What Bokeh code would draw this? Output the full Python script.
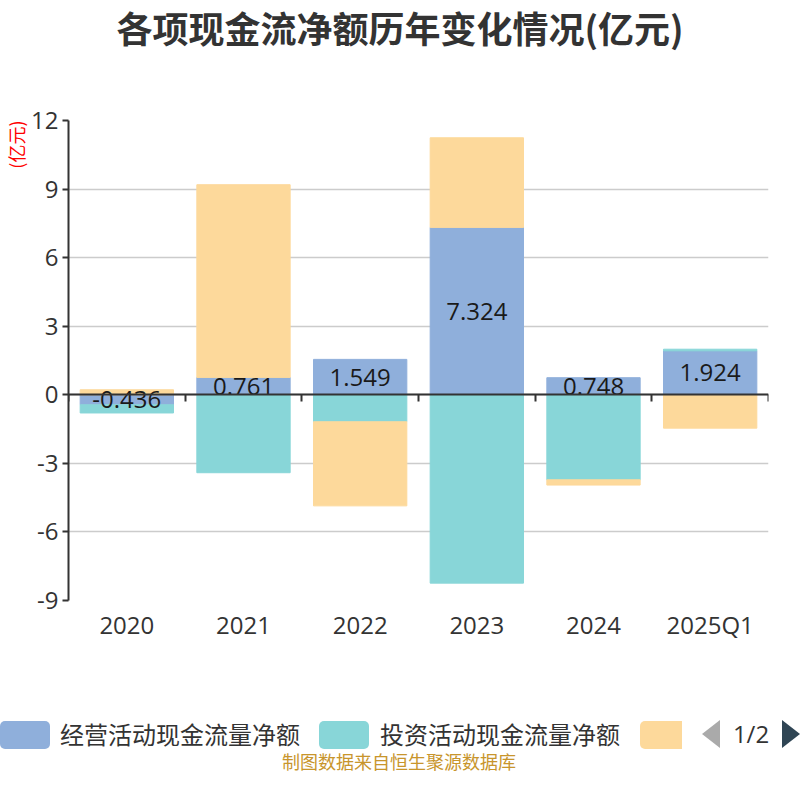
import numpy as np
from bokeh.plotting import figure
from bokeh.layouts import column
from bokeh.models import (Range1d, LinearAxis, FixedTicker, ColumnDataSource, Title, Div)
from bokeh.embed import file_html
from bokeh.resources import INLINE
from bokeh.core.properties import value

# ---- data ----
years = ["2020", "2021", "2022", "2023", "2024", "2025Q1"]
operating = [-0.436, 0.761, 1.549, 7.324, 0.748, 1.924]
investing = [-0.36, -3.41, -1.18, -8.24, -3.72, 0.07]
financing = [0.22, 8.43, -3.68, 3.92, -0.23, -1.46]
series_names = ["经营活动现金流量净额", "投资活动现金流量净额", "筹资活动现金流量净额"]
y_ticks = [-9, -6, -3, 0, 3, 6, 9, 12]
title_text = "各项现金流净额历年变化情况(亿元)"
unit_text = "(亿元)"
pager_text = "1/2"
source_text = "制图数据来自恒生聚源数据库"

colors = ["#8fafdb", "#88d6d8", "#fdd99b"]
FONT = "Noto Sans CJK SC"
NUMFONT = "Open Sans"

n = len(years)
xc = np.arange(n) + 0.5  # category centres on a numeric scale

# ---- stacking (positive / negative separately) ----
pos = np.zeros(n)
neg = np.zeros(n)
stacks = []
for vals in [operating, investing, financing]:
    v = np.array(vals, dtype=float)
    b = np.where(v >= 0, pos, neg)
    t = b + v
    pos = np.where(v >= 0, t, pos)
    neg = np.where(v < 0, t, neg)
    stacks.append((b, t))

# ---- title strip ----
title_div = Div(width=784, height=98, margin=0, text=(
    '<div style="position:relative;width:784px;height:98px;">'
    '<div style="position:absolute;left:0;top:8px;width:800px;text-align:center;'
    f"font-family:'{FONT}';font-weight:bold;font-size:36px;line-height:38px;"
    f'color:#333333;white-space:nowrap;">{title_text}</div></div>'))

# ---- main chart ----
p = figure(x_range=Range1d(0, n), y_range=Range1d(-9, 12),
           width=784, height=574, output_backend="svg", toolbar_location=None,
           min_border_left=68, min_border_right=16, min_border_top=22, min_border_bottom=72)
p.outline_line_color = None
p.background_fill_color = "white"
p.title.visible = False

p.add_layout(Title(text=unit_text, align="right", text_font=FONT,
                   text_font_size="18px", text_font_style="normal",
                   text_color="#ff0000", standoff=0), "left")

for i, (b, t) in enumerate(stacks):
    src = ColumnDataSource(dict(x=xc, bottom=b, top=t))
    p.vbar(x="x", bottom="bottom", top="top", width=0.8, source=src,
           fill_color=colors[i], line_color=colors[i], line_width=1)

# data labels for operating series
lab_src = ColumnDataSource(dict(x=xc, y=[v / 2 for v in operating],
                                t=[f"{v:.3f}" for v in operating]))
p.text(x="x", y="y", text="t", source=lab_src, text_align="center",
       text_baseline="middle", text_font=value(NUMFONT), text_font_size="24px",
       text_color="#1a1a1a")

# y axis
p.yaxis.ticker = FixedTicker(ticks=y_ticks)
p.yaxis.major_label_overrides = {t: str(t) for t in y_ticks}
p.yaxis.axis_line_color = "#333333"
p.yaxis.axis_line_width = 2
p.yaxis.major_tick_line_color = "#333333"
p.yaxis.major_tick_line_width = 2
p.yaxis.major_tick_in = 0
p.yaxis.major_tick_out = 6
p.yaxis.minor_tick_line_color = None
p.yaxis.major_label_text_font = NUMFONT
p.yaxis.major_label_text_font_size = "24px"
p.yaxis.major_label_text_color = "#333333"
p.yaxis.major_label_standoff = 4
p.ygrid.ticker = FixedTicker(ticks=y_ticks)
p.ygrid.grid_line_color = "#cccccc"
p.ygrid.grid_line_width = 1.5
p.xgrid.grid_line_color = None

# bottom category labels
p.xaxis.ticker = FixedTicker(ticks=list(xc))
p.xaxis.major_label_overrides = {float(x): y for x, y in zip(xc, years)}
p.xaxis.axis_line_color = None
p.xaxis.major_tick_line_color = None
p.xaxis.minor_tick_line_color = None
p.xaxis.major_label_text_font = NUMFONT
p.xaxis.major_label_text_font_size = "24px"
p.xaxis.major_label_text_color = "#333333"
p.xaxis.major_label_standoff = 1

# zero axis with ticks at category boundaries
edges = list(range(n + 1))
zax = LinearAxis(fixed_location=0, ticker=FixedTicker(ticks=edges),
                 major_label_overrides={e: "" for e in edges},
                 axis_line_color="#333333",
                 axis_line_width=2, major_tick_in=0, major_tick_out=7,
                 major_tick_line_color="#333333", major_tick_line_width=2,
                 minor_tick_line_color=None)
p.add_layout(zax, "below")

# ---- legend / pager / source strip ----
def swatch(left, width, color, radius):
    return (f'<div style="position:absolute;left:{left}px;top:49px;width:{width}px;'
            f'height:28px;background:{color};border-radius:{radius};"></div>')

def label(left, text):
    return (f'<div style="position:absolute;left:{left}px;top:48px;height:28px;'
            f"line-height:28px;font-family:'{FONT}';font-size:24px;color:#333333;"
            f'white-space:nowrap;">{text}</div>')

bottom_html = (
    '<div style="position:relative;width:784px;height:112px;">'
    + swatch(0, 50, colors[0], "5px") + label(60, series_names[0])
    + swatch(319, 50, colors[1], "5px") + label(380, series_names[1])
    + swatch(640, 42, colors[2], "5px 0 0 5px")
    + '<div style="position:absolute;left:702px;top:48px;width:0;height:0;'
      'border-top:14.5px solid transparent;border-bottom:14.5px solid transparent;'
      'border-right:18px solid #aaaaaa;"></div>'
    + '<div style="position:absolute;left:732px;top:48px;width:38px;height:28px;'
      "line-height:28px;text-align:center;font-family:'Open Sans';font-size:24px;"
      f'color:#333333;">{pager_text}</div>'
    + '<div style="position:absolute;left:782px;top:48px;width:0;height:0;'
      'border-top:14.5px solid transparent;border-bottom:14.5px solid transparent;'
      'border-left:18px solid #2f4554;"></div>'
    + '<div style="position:absolute;left:0;top:76px;width:798px;height:26px;'
      "line-height:26px;text-align:center;font-family:'" + FONT + "';font-size:18px;"
      f'color:#c8952c;white-space:nowrap;">{source_text}</div>'
    + '</div>')
bottom_div = Div(width=784, height=112, margin=0, text=bottom_html)

layout = column(title_div, p, bottom_div, spacing=0)
open("out.html", "w").write(file_html(layout, INLINE))
